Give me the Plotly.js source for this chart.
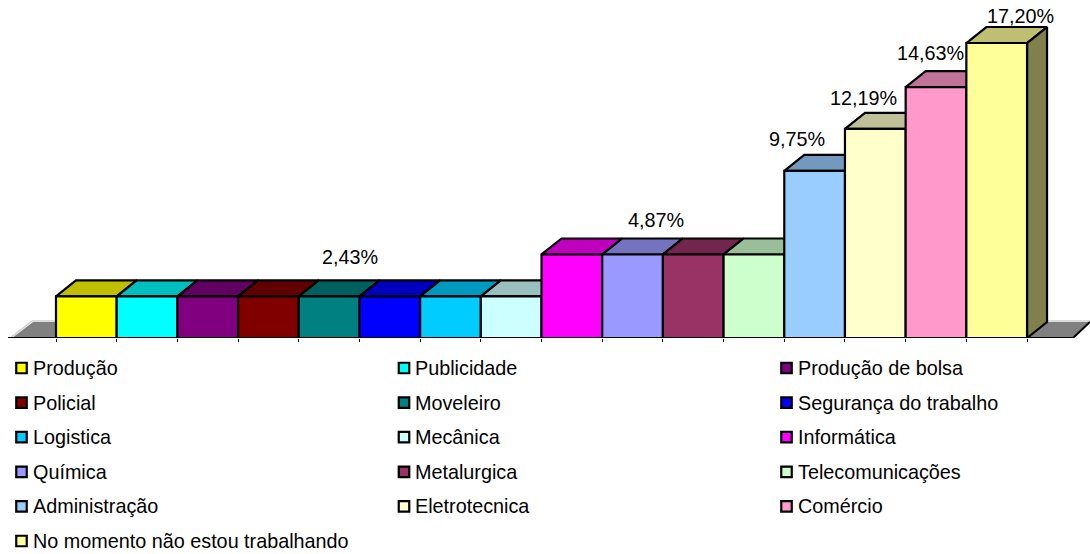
<!DOCTYPE html>
<html><head><meta charset="utf-8">
<script src="https://cdn.plot.ly/plotly-3.0.1.min.js"></script>
<style>html,body{margin:0;padding:0;background:#fff}#c{width:1090px;height:554px}</style>
</head><body><div id="c"></div>
<script>
const categories = ["Produção","Publicidade","Produção de bolsa","Policial","Moveleiro","Segurança do trabalho","Logistica","Mecânica","Informática","Química","Metalurgica","Telecomunicações","Administração","Eletrotecnica","Comércio","No momento não estou trabalhando"];
const values = [2.43,2.43,2.43,2.43,2.43,2.43,2.43,2.43,4.87,4.87,4.87,4.87,9.75,12.19,14.63,17.20];
const colors = ["#FFFF00","#00FFFF","#800080","#800000","#008080","#0000FF","#00CCFF","#CCFFFF","#FF00FF","#9999FF","#993366","#CCFFCC","#99CCFF","#FFFFCC","#FF99CC","#FFFF99"];
const labelBars = [4,9,12,13,14,15];
const labelTexts = ["2,43%","4,87%","9,75%","12,19%","14,63%","17,20%"];
const labelShiftX = [21,23,-18,-11.5,-6,24];
const labelShiftY = [39,34.5,32,31,34,27];

const FONT = "Liberation Sans, Arial, sans-serif", FS = 19.8;
const W = 1090, H = 554, baseY = 338, firstX = 56, barW = 60.69, pxPerUnit = 17.15;
const depthX = 20 / barW, depthY = 16 / pxPerUnit;
const pxX = p => (p - firstX) / barW - 0.5;
const shade = (hex, f) => {
  const n = parseInt(hex.slice(1), 16);
  const c = [n >> 16, (n >> 8) & 255, n & 255].map(v => Math.round(v * f));
  return `rgb(${c.join(",")})`;
};
const idx = categories.map((_, i) => i);
const edge = {color: "#000", width: 2.2};
const traces = [];

// floor
traces.push({type:"scatter",mode:"lines",x:[pxX(12),pxX(33),pxX(1090),pxX(1073),pxX(12)],y:[0,depthY,depthY,0,0],fill:"toself",fillcolor:"#808080",line:{width:0},hoverinfo:"skip",cliponaxis:false});
traces.push({type:"scatter",mode:"lines",x:[pxX(10),pxX(32),pxX(1090)],y:[0,depthY+0.06,depthY+0.06],line:{color:"#D0D0D0",width:1.5},hoverinfo:"skip",cliponaxis:false});
traces.push({type:"scatter",mode:"lines",x:[pxX(8),pxX(1073),pxX(1090)],y:[0,0,depthY],line:{color:"#000",width:2},hoverinfo:"skip",cliponaxis:false});

// top faces
idx.forEach(i => {
  const v = values[i];
  traces.push({type:"scatter",mode:"lines",x:[i-.5,i-.5+depthX,i+.5+depthX,i+.5,i-.5],y:[v,v+depthY,v+depthY,v,v],fill:"toself",fillcolor:shade(colors[i],0.75),line:edge,hoverinfo:"skip",cliponaxis:false});
});
// right side of the last bar
const last = idx.length - 1, lv = values[last];
traces.push({type:"scatter",mode:"lines",x:[last+.5,last+.5+depthX,last+.5+depthX,last+.5,last+.5],y:[lv,lv+depthY,depthY,0,lv],fill:"toself",fillcolor:shade(colors[last],0.5),line:edge,hoverinfo:"skip",cliponaxis:false});

// front faces
traces.push({type:"bar",x:idx,y:values,width:1,xaxis:"x2",yaxis:"y2",marker:{color:colors,line:edge},text:categories,hoverinfo:"text+y",textposition:"none",cliponaxis:false});

// legend swatches
const cols = 3;
const legX = idx.map(i=>i%cols), legY = idx.map(i=>Math.floor(i/cols));
traces.push({type:"scatter",mode:"markers",xaxis:"x3",yaxis:"y3",x:legX,y:legY,
  marker:{symbol:"square",size:10.5,color:colors,line:{color:"#000",width:2.2}},hoverinfo:"skip",cliponaxis:false});

const xr = [pxX(0), pxX(W)];
const yDom = [(H-baseY)/H, 1];
const yr = [0, baseY/pxPerUnit];
const hidden = {visible:false,fixedrange:true};
const dataLabels = labelBars.map((b,k)=>({x:b,y:values[b],xref:"x2",yref:"y2",text:labelTexts[k],showarrow:false,xanchor:"center",yanchor:"middle",xshift:labelShiftX[k],yshift:labelShiftY[k],font:{size:FS,color:"#000",family:FONT}}));
const legendLabels = categories.map((c,i)=>({x:legX[i],y:legY[i],xref:"x3",yref:"y3",text:c,showarrow:false,xanchor:"left",yanchor:"middle",xshift:9,yshift:0,font:{size:FS,color:"#000",family:FONT}}));
const layout = {
  width:W,height:H,margin:{l:0,r:0,t:0,b:0},paper_bgcolor:"#fff",plot_bgcolor:"rgba(0,0,0,0)",showlegend:false,
  font:{family:FONT,color:"#000"},
  xaxis:{range:xr,domain:[0,1],anchor:"y",showgrid:false,zeroline:false,showline:false,ticks:"outside",ticklen:2.5,tickwidth:1,tickcolor:"#000",tickmode:"array",tickvals:[...idx.map(i=>i-.5),last+.5],showticklabels:false},
  yaxis:{...hidden,range:yr,domain:yDom,anchor:"x"},
  xaxis2:{...hidden,range:xr,overlaying:"x",anchor:"y2"},
  yaxis2:{...hidden,range:yr,domain:yDom,overlaying:"y",anchor:"x2"},
  xaxis3:{...hidden,range:[-21.5/382.5,(W-21.5)/382.5],domain:[0,1],anchor:"y3"},
  yaxis3:{...hidden,range:[(H-368)/34.6,(baseY-368)/34.6],domain:[0,yDom[0]],anchor:"x3"},
  annotations:[...dataLabels,...legendLabels]
};
Plotly.newPlot("c",traces,layout,{displayModeBar:false,staticPlot:true});
</script></body></html>
